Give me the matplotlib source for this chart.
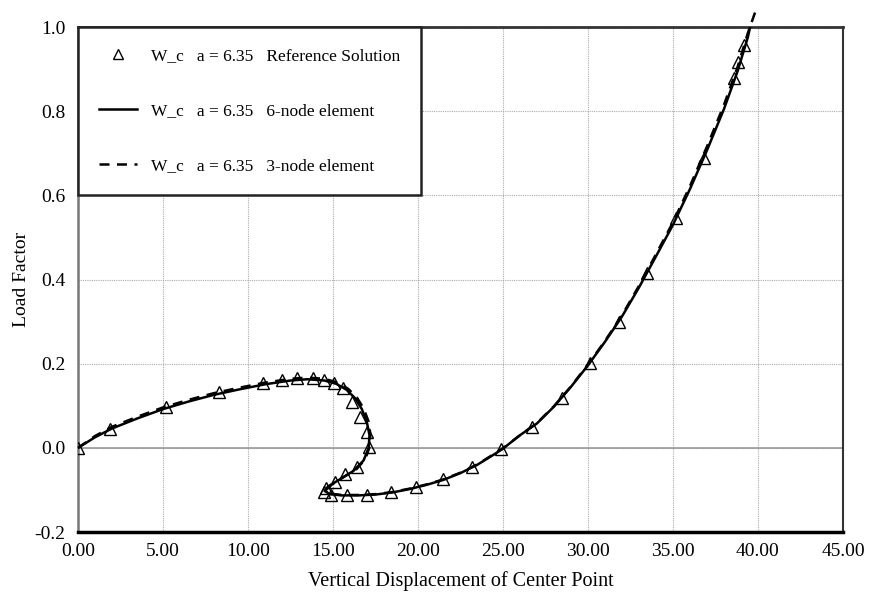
import numpy as np
import matplotlib
matplotlib.use('Agg')
import matplotlib.pyplot as plt

plt.rcParams['font.family'] = ['Liberation Serif', 'DejaVu Serif']

# reference solution (triangles)
ref_x = [0.0, 1.9, 5.2, 8.3, 10.9, 12.0, 12.9, 13.8, 14.5, 15.05, 15.6, 16.1, 16.6, 17.0, 17.1,
         16.4, 15.7, 15.1, 14.6, 14.45, 14.9, 15.8, 17.0, 18.4, 19.9, 21.5, 23.2, 24.9,
         26.7, 28.5, 30.1, 31.8, 33.5, 35.2, 36.8, 38.6, 38.85, 39.2]
ref_y = [0.0, 0.044, 0.098, 0.133, 0.155, 0.161, 0.166, 0.166, 0.162, 0.154, 0.142, 0.109, 0.074, 0.038, 0.002,
         -0.045, -0.062, -0.08, -0.095, -0.104, -0.112, -0.112, -0.112, -0.105, -0.093, -0.075, -0.045, -0.003,
         0.05, 0.118, 0.202, 0.300, 0.416, 0.546, 0.689, 0.879, 0.917, 0.957]

# 6-node element
six_x = [0.0, 1.0, 2.0, 3.5, 5.0, 6.5, 8.0, 9.5, 11.0, 12.5, 13.5, 14.5, 15.2, 15.8, 16.3, 16.7,
         17.0, 17.15, 17.1, 16.8, 16.2, 15.4, 14.7, 14.5, 14.8, 15.5, 16.5, 17.5, 18.5, 19.5,
         20.5, 21.5, 22.5, 23.5, 24.5, 25.0, 26.0, 27.0, 28.0, 29.0, 30.0, 31.0, 32.0, 33.0,
         34.0, 35.0, 36.0, 37.0, 38.0, 38.8, 39.4, 39.65]
six_y = [0.0, 0.025, 0.046, 0.07, 0.092, 0.11, 0.126, 0.139, 0.151, 0.16, 0.163, 0.16, 0.152, 0.138, 0.118, 0.092,
         0.06, 0.03, 0.0, -0.03, -0.055, -0.075, -0.092, -0.102, -0.11, -0.113, -0.113, -0.111, -0.106, -0.098,
         -0.088, -0.076, -0.06, -0.04, -0.015, -0.002, 0.03, 0.058, 0.098, 0.145, 0.196, 0.252, 0.312, 0.381,
         0.455, 0.53, 0.615, 0.707, 0.805, 0.895, 0.975, 1.02]

# 3-node element
three_x = [0.0, 1.0, 2.0, 3.5, 5.0, 6.5, 8.0, 9.5, 11.0, 12.5, 13.5, 14.5, 15.3, 15.9, 16.4, 16.8,
           17.1, 17.2, 17.15, 16.9, 16.4, 15.6, 14.9, 14.6, 14.9, 15.5, 16.5, 17.5, 18.5, 19.5,
           20.5, 21.5, 22.5, 23.5, 24.5, 25.0, 26.0, 27.0, 28.0, 29.0, 30.0, 31.0, 32.0, 33.0,
           34.0, 35.0, 36.0, 37.0, 38.0, 38.8, 39.4, 39.9]
three_y = [0.0, 0.028, 0.05, 0.074, 0.096, 0.114, 0.13, 0.143, 0.155, 0.164, 0.167, 0.164, 0.155, 0.14, 0.12, 0.094,
           0.062, 0.032, 0.002, -0.027, -0.05, -0.07, -0.088, -0.1, -0.109, -0.112, -0.112, -0.11, -0.105, -0.097,
           -0.087, -0.075, -0.059, -0.039, -0.014, -0.001, 0.03, 0.059, 0.099, 0.146, 0.198, 0.254, 0.315, 0.385,
           0.46, 0.536, 0.622, 0.716, 0.815, 0.905, 0.985, 1.043]

x_ticks = [0, 5, 10, 15, 20, 25, 30, 35, 40, 45]
y_ticks = [-0.2, 0.0, 0.2, 0.4, 0.6, 0.8, 1.0]

fig = plt.figure(figsize=(8.72, 6.01), dpi=100)
ax = fig.add_axes([0.0894, 0.1148, 0.8773, 0.8402])

ax.plot(six_x, six_y, color='black', lw=1.8, label='W_c   a = 6.35   6-node element', zorder=3)
ax.plot(three_x, three_y, color='black', lw=1.8, dashes=(4, 3), label='W_c   a = 6.35   3-node element',
        zorder=3, clip_on=False)
ax.plot(ref_x, ref_y, linestyle='none', marker='^', markersize=9, markerfacecolor='none',
        markeredgecolor='black', markeredgewidth=1.0, label='W_c   a = 6.35   Reference Solution', zorder=4)

ax.set_xlim(0, 45)
ax.set_ylim(-0.2, 1.0)
ax.set_xticks(x_ticks)
ax.set_xticklabels(['%.2f' % v for v in x_ticks])
ax.set_yticks(y_ticks)
ax.set_yticklabels(['%.1f' % v for v in y_ticks])
ax.tick_params(length=0, labelsize=14)
ax.tick_params(axis='x', pad=8)
ax.tick_params(axis='y', pad=9)

ax.grid(True, color='#aaaaaa', linestyle=(0, (1, 1)), linewidth=0.8)
ax.axhline(0, color='#999999', lw=1.2, zorder=1)
ax.set_axisbelow(True)

ax.spines['left'].set_color('#777777')
ax.spines['left'].set_linewidth(1.8)
ax.spines['bottom'].set_color('black')
ax.spines['bottom'].set_linewidth(2.5)
ax.spines['top'].set_color('#333333')
ax.spines['top'].set_linewidth(2.0)
ax.spines['right'].set_color('#333333')
ax.spines['right'].set_linewidth(1.5)

ax.set_xlabel('Vertical Displacement of Center Point', fontsize=14.5, labelpad=8)
ax.set_ylabel('Load Factor', fontsize=14, labelpad=3)

h, l = ax.get_legend_handles_labels()
leg = ax.legend([h[2], h[0], h[1]], [l[2], l[0], l[1]], loc='upper left', bbox_to_anchor=(0, 1),
                borderaxespad=0, fontsize=12.5, frameon=True, fancybox=False, framealpha=1,
                edgecolor='#222222', borderpad=1.2, labelspacing=2.25, handlelength=2.2, handletextpad=0.8)
leg.get_frame().set_linewidth(1.8)
leg.legend_handles[0].set_markersize(7)

fig.savefig('out.png', dpi=100)
